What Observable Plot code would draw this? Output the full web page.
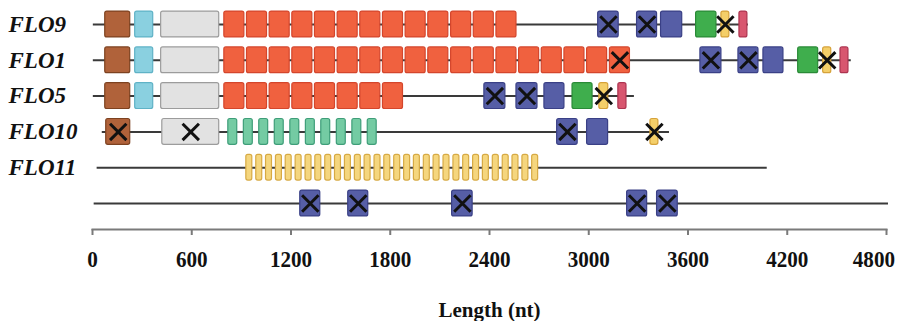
<!DOCTYPE html>
<html>
<head>
<meta charset="utf-8">
<script src="https://cdn.jsdelivr.net/npm/d3@7"></script>
<script src="https://cdn.jsdelivr.net/npm/@observablehq/plot@0.6"></script>
<style>
  html, body { margin: 0; padding: 0; background: #fff; }
  #chart svg { display: block; }
</style>
</head>
<body>
<div id="chart"></div>
<script>
// ---- data (positions in nt) ----
const xTicks = [0, 600, 1200, 1800, 2400, 3000, 3600, 4200, 4800];
const genes = ["FLO9", "FLO1", "FLO5", "FLO10", "FLO11"];
// backbone line per row: [start, end]
const backbone = [[5, 3965], [5, 4587], [5, 3276], [59, 3488], [28, 4079], [10, 4812]];
// domain boxes: [row, start, end, crossed]
const brownBoxes = [[0, 77, 228, 0], [1, 77, 228, 0], [2, 77, 228, 0], [3, 83, 228, 1]];
const cyanBoxes = [[0, 258, 367, 0], [1, 258, 367, 0], [2, 258, 367, 0]];
const greyBoxes = [[0, 415, 766, 0], [1, 415, 766, 0], [2, 415, 766, 0], [3, 422, 766, 1]];
const redStarts = [797, 934, 1071, 1208, 1345, 1482, 1619, 1756, 1893, 2030, 2168, 2305, 2442, 2579, 2716, 2853, 2990, 3128];
const redCounts = [13, 18, 8];
const redWidth = 121;
const redCrossed = [[1, 3128]];
const blueBoxes = [
  [0, 3057, 3181, 1], [0, 3292, 3413, 1], [0, 3437, 3565, 0],
  [1, 3675, 3802, 1], [1, 3905, 4026, 1], [1, 4056, 4177, 0],
  [2, 2369, 2496, 1], [2, 2563, 2690, 1], [2, 2732, 2853, 0],
  [3, 2809, 2933, 1], [3, 2990, 3117, 0],
  [5, 1256, 1377, 1], [5, 1546, 1667, 1], [5, 2174, 2298, 1], [5, 3232, 3353, 1], [5, 3413, 3538, 1]
];
const greenBoxes = [[0, 3649, 3772, 0], [1, 4266, 4387, 0], [2, 2902, 3023, 0]];
const yellowBoxes = [[0, 3802, 3850, 1], [1, 4417, 4466, 1], [2, 3064, 3118, 1], [3, 3373, 3421, 1]];
const pinkBoxes = [[0, 3911, 3959, 0], [1, 4522, 4570, 0], [2, 3179, 3228, 0]];
const tealStarts = [821, 915, 1008, 1102, 1196, 1290, 1383, 1477, 1571, 1664];
const tealWidth = 54;
const flo11Starts = [930, 990, 1049, 1109, 1168, 1228, 1288, 1347, 1407, 1466, 1526, 1586, 1645, 1705, 1764,
  1824, 1884, 1943, 2003, 2062, 2122, 2182, 2241, 2301, 2360, 2420, 2480, 2539, 2599, 2658];
const flo11Width = 36;

// ---- build tables ----
const style = {
  brown: ["#b0623a", "#7d4220"],
  cyan: ["#8ad0e0", "#5fb2c6"],
  grey: ["#e2e2e2", "#9c9c9c"],
  red: ["#f0613f", "#d4462c"],
  blue: ["#565ea6", "#3a4086"],
  green: ["#3fae4d", "#2a8a37"],
  yellow: ["#f4cf69", "#d6a23a"],
  pink: ["#d8566f", "#ad3450"],
  teal: ["#74cba3", "#3f9e79"],
  flo11: ["#f5d67e", "#d7aa44"]
};
const boxes = [];
function addBoxes(list, type) {
  for (const [row, start, end, cross] of list) {
    boxes.push({row, start, end, cross: !!cross, fill: style[type][0], stroke: style[type][1]});
  }
}
addBoxes(brownBoxes, "brown");
addBoxes(cyanBoxes, "cyan");
addBoxes(greyBoxes, "grey");
redCounts.forEach((n, row) => {
  addBoxes(redStarts.slice(0, n).map(s => [row, s, s + redWidth,
    redCrossed.some(([r, c]) => r === row && c === s) ? 1 : 0]), "red");
});
addBoxes(blueBoxes, "blue");
addBoxes(greenBoxes, "green");
addBoxes(yellowBoxes, "yellow");
addBoxes(pinkBoxes, "pink");
addBoxes(tealStarts.map(s => [3, s, s + tealWidth, 0]), "teal");
addBoxes(flo11Starts.map(s => [4, s, s + flo11Width, 0]), "flo11");

const half = 0.36;
const serif = "'Liberation Serif', 'Times New Roman', serif";

const chart = Plot.plot({
  width: 904,
  height: 321,
  marginLeft: 92,
  marginRight: 18,
  marginTop: 0,
  marginBottom: 92,
  style: {fontFamily: serif, background: "#fff", color: "#111"},
  x: {domain: [0, 4800]},
  y: {domain: [0, 5], range: [24, 203], axis: null},
  marks: [
    Plot.frame({anchor: "bottom", stroke: "#7a7a7a", strokeWidth: 2}),
    Plot.axisX({
      ticks: xTicks, tickSize: 6, tickPadding: 14, tickFormat: d => String(d),
      stroke: "#7a7a7a", strokeWidth: 2, fill: "#111",
      fontSize: 24, fontWeight: "bold",
      label: "Length (nt)", labelAnchor: "center", labelArrow: "none", labelOffset: 87
    }),
    Plot.ruleY(backbone, {y: (d, i) => i, x1: d => d[0], x2: d => d[1], stroke: "#3a3a3a", strokeWidth: 2}),
    Plot.rect(boxes, {
      x1: "start", x2: "end", y1: d => d.row - half, y2: d => d.row + half,
      fill: "fill", stroke: "stroke", strokeWidth: 1.2, rx: 2
    }),
    Plot.dot(boxes.filter(d => d.cross), {
      x: d => (d.start + d.end) / 2, y: "row", symbol: "times", r: 7.5,
      stroke: "#111", strokeWidth: 3
    }),
    Plot.text(genes, {
      y: (d, i) => i, text: d => d, frameAnchor: "left", textAnchor: "start", dx: -84,
      fontSize: 23, fontWeight: "bold", fontStyle: "italic", fill: "#111"
    })
  ]
});
document.getElementById("chart").appendChild(chart);

// condense the tall tick labels like the original typesetting, keep them inside the page
chart.querySelectorAll('g[aria-label="x-axis tick label"] text').forEach(t => {
  const w = t.getComputedTextLength();
  t.setAttribute("textLength", (w * 0.88).toFixed(1));
  t.setAttribute("lengthAdjust", "spacingAndGlyphs");
});
chart.querySelectorAll('g[aria-label="x-axis label"] text').forEach(t => {
  t.setAttribute("font-size", "21");
});
chart.querySelectorAll('text').forEach(t => {
  const b = t.getBoundingClientRect();
  if (b.right > 895) t.setAttribute("dx", String(-(b.right - 895)));
});
</script>
</body>
</html>
